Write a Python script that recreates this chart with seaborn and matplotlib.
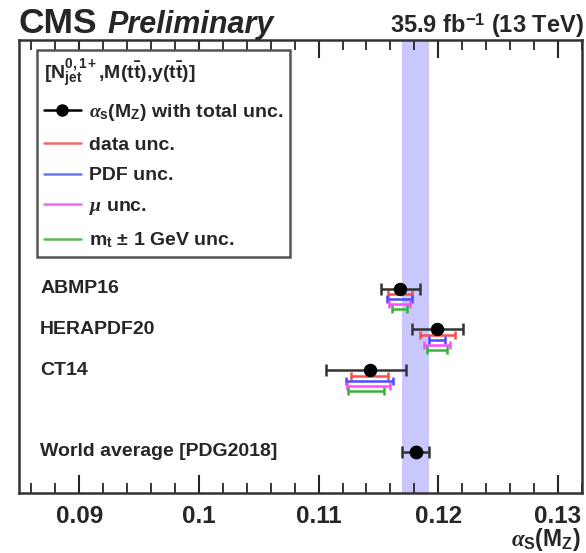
import matplotlib
matplotlib.use("Agg")
import matplotlib.pyplot as plt
import matplotlib.transforms as mtransforms
from matplotlib.lines import Line2D
from matplotlib.ticker import MultipleLocator
import seaborn as sns
import pandas as pd

# ---------------- data ----------------
pdf_sets = ["ABMP16", "HERAPDF20", "CT14"]
alphas = [0.1168, 0.1199, 0.1143]
tot_lo = [0.0016, 0.0021, 0.0037]
tot_hi = [0.0017, 0.0022, 0.0030]
data_lo = [0.0010, 0.0014, 0.0016]
data_hi = [0.0010, 0.0015, 0.0015]
pdf_lo = [0.0011, 0.0007, 0.0020]
pdf_hi = [0.0010, 0.0007, 0.0019]
mu_lo = [0.0009, 0.0011, 0.0019]
mu_hi = [0.0008, 0.0011, 0.0017]
mt_lo = [0.0007, 0.0008, 0.0018]
mt_hi = [0.0006, 0.0008, 0.0012]
world_label = "World average [PDG2018]"
world_avg = 0.1181
world_unc = 0.0011
xticks = [0.09, 0.10, 0.11, 0.12, 0.13]
xtick_labels = ["0.09", "0.1", "0.11", "0.12", "0.13"]

# ---------------- style ----------------
sns.set_style("ticks")
plt.rcParams["font.family"] = ["Liberation Sans", "DejaVu Sans"]
plt.rcParams["font.weight"] = "bold"
plt.rcParams["mathtext.fontset"] = "custom"
plt.rcParams["mathtext.rm"] = "Liberation Sans:bold"
plt.rcParams["mathtext.it"] = "Liberation Serif:italic"
plt.rcParams["mathtext.bf"] = "Liberation Sans:bold"

fig = plt.figure(figsize=(5.86, 5.53), dpi=100)
ax = fig.add_axes([0.033, 0.109, 0.960, 0.8186])

rows = [1, 2, 3]
world_row = 5

df = pd.DataFrame({"pdf": pdf_sets, "alpha": alphas, "row": rows})

# world-average band
ax.axvspan(world_avg - world_unc, world_avg + world_unc, color="#c8c8ff", zorder=0, lw=0)

comp = [
    (data_lo, data_hi, "#ff4a4a", 0.13),
    (pdf_lo, pdf_hi, "#4a4aff", 0.255),
    (mu_lo, mu_hi, "#ff4aff", 0.38),
    (mt_lo, mt_hi, "#3cb03c", 0.5),
]
for lo, hi, col, off in comp:
    ax.errorbar(alphas, [r + off for r in rows], xerr=[lo, hi], fmt="none",
                ecolor=col, elinewidth=1.8, capsize=3, capthick=1.8, zorder=3)

ax.errorbar(alphas, rows, xerr=[tot_lo, tot_hi], fmt="none", ecolor="#333333",
            elinewidth=1.8, capsize=4.5, capthick=1.8, zorder=4)
ax.errorbar([world_avg], [world_row], xerr=[[world_unc], [world_unc]], fmt="none",
            ecolor="#333333", elinewidth=1.8, capsize=4.5, capthick=1.8, zorder=4)

sns.scatterplot(data=df, x="alpha", y="row", ax=ax, color="black", s=80,
                edgecolor="black", zorder=5, legend=False)
ax.scatter([world_avg], [world_row], color="black", s=80, zorder=5)

# row labels
trans = mtransforms.blended_transform_factory(ax.transAxes, ax.transData)
for name, r in zip(pdf_sets, rows):
    ax.text(0.037, r, name, transform=trans, ha="left", va="center",
            fontsize=14, fontweight="bold")
ax.text(0.037, world_row, world_label, transform=trans, ha="left", va="center",
        fontsize=14, fontweight="bold")

ax.set_xlim(0.085, 0.132)
ax.set_ylim(6.0, -5.09)
ax.set_yticks([])
ax.set_xticks(xticks)
ax.set_xticklabels(xtick_labels, fontsize=17.5, fontweight="bold")
ax.xaxis.set_minor_locator(MultipleLocator(0.002))
ax.tick_params(axis="x", which="major", direction="in", length=13, width=1.5,
               top=True, bottom=True, pad=9)
ax.tick_params(axis="x", which="minor", direction="in", length=7, width=1.3,
               top=True, bottom=True)
for s in ax.spines.values():
    s.set_linewidth(1.8)
    s.set_color("#333333")
ax.set_xlabel(r"$\alpha_{\rm S}$(M$_{\rm Z}$)", fontsize=16.5, fontweight="bold",
              ha="right", va="center")
ax.xaxis.set_label_coords(0.997, -0.104)
ax.set_ylabel("")

# legend
handles = [
    Line2D([], [], color="black", marker="o", markersize=8, lw=1.8),
    Line2D([], [], color="#f06a6a", lw=1.8),
    Line2D([], [], color="#6a78f0", lw=1.8),
    Line2D([], [], color="#f06af0", lw=1.8),
    Line2D([], [], color="#5ab85a", lw=1.8),
]
labels = [
    r"$\alpha_{\rm s}$(M$_{\rm Z}$) with total unc.",
    "data unc.",
    "PDF unc.",
    r"$\mu$ unc.",
    r"m$_{\rm t}$ $\pm$ 1 GeV unc.",
]
leg = ax.legend(handles, labels,
                title=r"[N$^{0,1+}_{\rm jet}$,M(t$\bar{\rm t}$),y(t$\bar{\rm t}$)]",
                loc="upper left", bbox_to_anchor=(0.031, 0.978),
                fontsize=14, title_fontsize=14, frameon=True, fancybox=False,
                edgecolor="#555555", framealpha=1, handlelength=1.9,
                handletextpad=0.45, labelspacing=0.68, borderpad=0.35,
                alignment="left", borderaxespad=0)
leg.get_frame().set_linewidth(1.8)
for t in leg.get_texts():
    t.set_fontweight("bold")
leg.get_title().set_fontweight("bold")

# header texts
fig.text(0.032, 0.940, "CMS", fontsize=25.5, fontweight="bold", ha="left", va="baseline")
fig.text(0.184, 0.940, "Preliminary", fontsize=22, fontweight="bold", style="italic",
         ha="left", va="baseline")
fig.text(0.997, 0.940, r"35.9 fb$^{\mathbf{-1}}$ (13 TeV)", fontsize=17,
         fontweight="bold", ha="right", va="baseline")

fig.savefig("out.png", dpi=100)
